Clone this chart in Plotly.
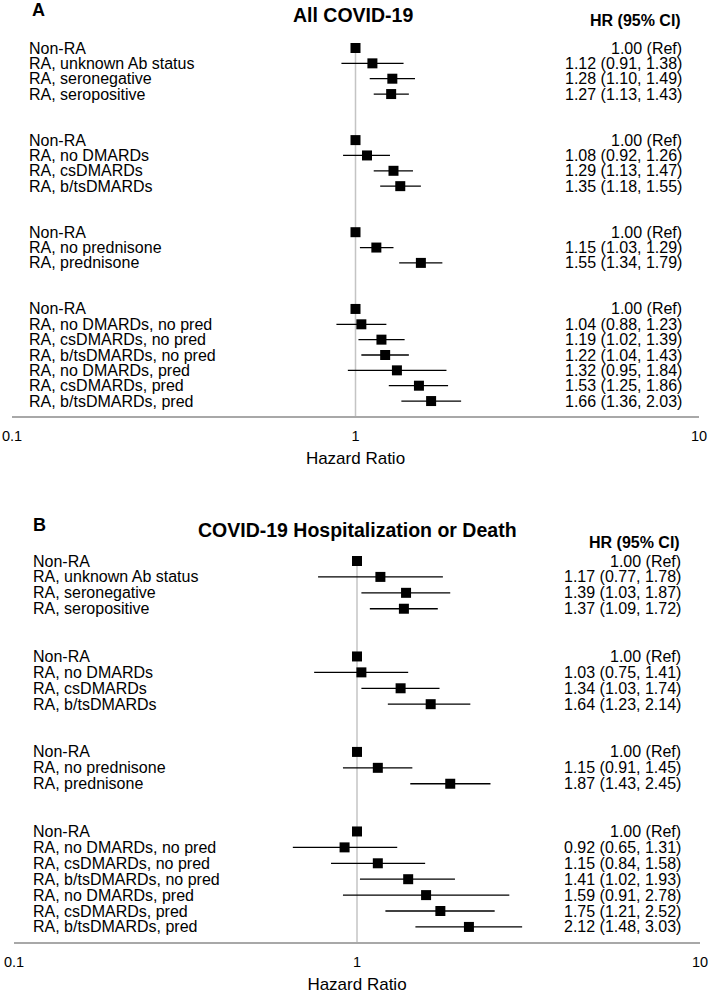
import plotly.graph_objects as go

# ---------------- data ----------------
group_labels = [
    ["Non-RA", "RA, unknown Ab status", "RA, seronegative", "RA, seropositive"],
    ["Non-RA", "RA, no DMARDs", "RA, csDMARDs", "RA, b/tsDMARDs"],
    ["Non-RA", "RA, no prednisone", "RA, prednisone"],
    ["Non-RA", "RA, no DMARDs, no pred", "RA, csDMARDs, no pred", "RA, b/tsDMARDs, no pred",
     "RA, no DMARDs, pred", "RA, csDMARDs, pred", "RA, b/tsDMARDs, pred"],
]

# Panel A: All COVID-19
a_hr = [[1.00, 1.12, 1.28, 1.27], [1.00, 1.08, 1.29, 1.35], [1.00, 1.15, 1.55],
        [1.00, 1.04, 1.19, 1.22, 1.32, 1.53, 1.66]]
a_lo = [[None, 0.91, 1.10, 1.13], [None, 0.92, 1.13, 1.18], [None, 1.03, 1.34],
        [None, 0.88, 1.02, 1.04, 0.95, 1.25, 1.36]]
a_hi = [[None, 1.38, 1.49, 1.43], [None, 1.26, 1.47, 1.55], [None, 1.29, 1.79],
        [None, 1.23, 1.39, 1.43, 1.84, 1.86, 2.03]]

# Panel B: COVID-19 Hospitalization or Death
b_hr = [[1.00, 1.17, 1.39, 1.37], [1.00, 1.03, 1.34, 1.64], [1.00, 1.15, 1.87],
        [1.00, 0.92, 1.15, 1.41, 1.59, 1.75, 2.12]]
b_lo = [[None, 0.77, 1.03, 1.09], [None, 0.75, 1.03, 1.23], [None, 0.91, 1.43],
        [None, 0.65, 0.84, 1.02, 0.91, 1.21, 1.48]]
b_hi = [[None, 1.78, 1.87, 1.72], [None, 1.41, 1.74, 2.14], [None, 1.45, 2.45],
        [None, 1.31, 1.58, 1.93, 2.78, 2.52, 3.03]]

x_ticks = [0.1, 1, 10]
x_ticktext = ["0.1", "1", "10"]

# ---------------- layout helpers ----------------
W, H = 709, 994
FONT = "Liberation Sans, Arial, sans-serif"
GAP = 2  # blank rows between groups


def row_positions(groups):
    pos, r = [], 0
    for g in groups:
        for _ in g:
            pos.append(-r)
            r += 1
        r += GAP
    return pos


def flat(g):
    return [v for sub in g for v in sub]


def px_x(p):
    return p / W


def px_y(p):
    return 1 - p / H


fig = go.Figure()

panels = [
    dict(hr=a_hr, lo=a_lo, hi=a_hi, xa="x", ya="y", xname="xaxis", yname="yaxis",
         row0=48, step=15.35, bottom=416, top=40, xl=12, xr=699,
         lab_x=28, hr_x=683, letter="A", letter_y=10, letter_x=30,
         title="All COVID-19", title_y=15, title_x=353, head_y=20),
    dict(hr=b_hr, lo=b_lo, hi=b_hi, xa="x2", ya="y2", xname="xaxis2", yname="yaxis2",
         row0=561, step=15.91, bottom=942, top=550, xl=14, xr=700,
         lab_x=32, hr_x=682, letter="B", letter_y=525, letter_x=31,
         title="COVID-19 Hospitalization or Death", title_y=530, title_x=357, head_y=542),
]

annotations = []
layout_axes = {}
labels_flat = flat(group_labels)

for P in panels:
    ypos = row_positions(group_labels)
    hr = flat(P["hr"])
    lo = flat(P["lo"])
    hi = flat(P["hi"])
    ybot = -(P["bottom"] - P["row0"]) / P["step"]
    ytop = (P["row0"] - P["top"]) / P["step"]

    # reference line at HR = 1
    fig.add_trace(go.Scatter(x=[1, 1], y=[0, ybot], mode="lines",
                             line=dict(color="#c4c4c4", width=1.5),
                             xaxis=P["xa"], yaxis=P["ya"], hoverinfo="skip",
                             showlegend=False, cliponaxis=False))

    plus = [(b - h) if b is not None else 0 for b, h in zip(hi, hr)]
    minus = [(h - l) if l is not None else 0 for l, h in zip(lo, hr)]
    fig.add_trace(go.Scatter(
        x=hr, y=ypos, mode="markers",
        marker=dict(symbol="square", size=10, color="black"),
        error_x=dict(type="data", symmetric=False, array=plus, arrayminus=minus,
                     color="black", thickness=1.3, width=0),
        xaxis=P["xa"], yaxis=P["ya"], showlegend=False, cliponaxis=False))

    layout_axes[P["xname"]] = dict(
        type="log", range=[-1, 1], domain=[px_x(P["xl"]), px_x(P["xr"])],
        anchor=P["ya"], showgrid=False, zeroline=False, automargin=False,
        showline=True, linecolor="#a8a8a8", linewidth=1.5,
        tickvals=x_ticks, ticktext=x_ticktext,
        ticks="outside", ticklen=6, tickcolor="rgba(0,0,0,0)",
        tickfont=dict(family=FONT, size=14.5, color="black"),
        title=dict(text="Hazard Ratio", standoff=9,
                   font=dict(family=FONT, size=17, color="black")),
    )
    layout_axes[P["yname"]] = dict(
        range=[ybot, ytop], domain=[px_y(P["bottom"]), px_y(P["top"])],
        anchor=P["xa"], visible=False, showgrid=False, zeroline=False, automargin=False,
    )

    for lab, y, h, l, u in zip(labels_flat, ypos, hr, lo, hi):
        annotations.append(dict(xref="paper", yref=P["ya"], x=px_x(P["lab_x"]), y=y,
                                text=lab, showarrow=False, xanchor="left", yanchor="middle",
                                borderpad=0,
                                font=dict(family=FONT, size=16, color="black")))
        txt = "1.00 (Ref)" if l is None else f"{h:.2f} ({l:.2f}, {u:.2f})"
        annotations.append(dict(xref="paper", yref=P["ya"], x=px_x(P["hr_x"]), y=y,
                                text=txt, showarrow=False, xanchor="right", yanchor="middle",
                                borderpad=0,
                                font=dict(family=FONT, size=16, color="black")))

    annotations.append(dict(xref="paper", yref="paper", x=px_x(P["letter_x"]), y=px_y(P["letter_y"]),
                            text="<b>" + P["letter"] + "</b>", showarrow=False,
                            xanchor="left", yanchor="middle",
                            font=dict(family=FONT, size=18, color="black")))
    annotations.append(dict(xref="paper", yref="paper", x=px_x(P["title_x"]), y=px_y(P["title_y"]),
                            text="<b>" + P["title"] + "</b>", showarrow=False,
                            xanchor="center", yanchor="middle",
                            font=dict(family=FONT, size=19.5, color="black")))
    annotations.append(dict(xref="paper", yref="paper", x=px_x(P["hr_x"]), y=px_y(P["head_y"]),
                            text="<b>HR (95% CI)</b>", showarrow=False,
                            xanchor="right", yanchor="middle",
                            font=dict(family=FONT, size=16, color="black")))

fig.update_layout(
    template="none",
    width=W, height=H,
    margin=dict(l=0, r=0, t=0, b=0, pad=0, autoexpand=False),
    paper_bgcolor="white", plot_bgcolor="white",
    showlegend=False,
    hovermode=False,
    annotations=annotations,
    **layout_axes,
)

# remove the browser's default 8px body margin so the figure fills the window
fig.write_html("out.html",
               config={"displayModeBar": False, "staticPlot": True},
               post_script="document.body.style.margin='0';document.body.style.overflow='hidden';")
